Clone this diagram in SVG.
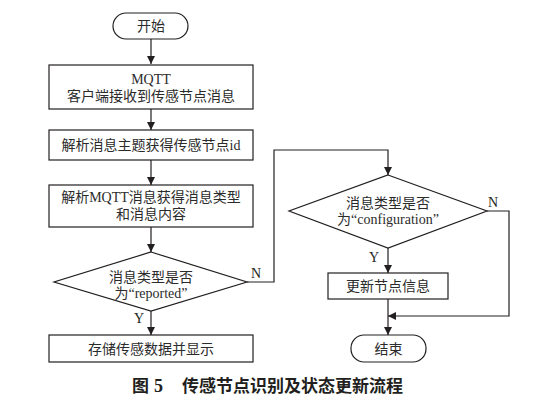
<svg xmlns="http://www.w3.org/2000/svg" width="544" height="401" viewBox="0 0 544 401">
<defs>
<marker id="ah" viewBox="0 0 10 10" refX="10" refY="5" markerWidth="8" markerHeight="8" markerUnits="userSpaceOnUse" orient="auto">
<path d="M0,0 L10,5 L0,10 z" fill="#231f20"/>
</marker>
<style>
.n{fill:#fff;stroke:#231f20;stroke-width:1.2}
.t{font-family:"Liberation Serif","Noto Sans CJK SC",serif;font-size:14px;fill:#2b2b2b;text-anchor:middle}
.l{font-family:"Liberation Serif",serif;font-size:14px;fill:#231f20;text-anchor:middle}
.c{fill:none;stroke:#231f20;stroke-width:1.2}
.cap{font-family:"Noto Sans CJK SC",sans-serif;font-size:17px;font-weight:bold;fill:#231f20}
</style>
</defs>
<rect width="544" height="401" fill="#fff"/>
<g id="connectors">
<path class="c" d="M151,39 V64" marker-end="url(#ah)"/>
<path class="c" d="M151,109 V130" marker-end="url(#ah)"/>
<path class="c" d="M151,160 V185" marker-end="url(#ah)"/>
<path class="c" d="M151,227 V252" marker-end="url(#ah)"/>
<path class="c" d="M151,311 V335" marker-end="url(#ah)"/>
<path class="c" d="M247,282 H274 V150 H388 V175" marker-end="url(#ah)"/>
<path class="c" d="M388,248 V273" marker-end="url(#ah)"/>
<path class="c" d="M388,299 V335" marker-end="url(#ah)"/>
<path class="c" d="M487,211 H509 V316 H388" marker-end="url(#ah)"/>
<text class="l" x="256" y="278">N</text>
<text class="l" x="139" y="323">Y</text>
<text class="l" x="493" y="207">N</text>
<text class="l" x="374" y="262">Y</text>
</g>
<g id="start">
<rect class="n" x="113" y="13" width="75" height="26" rx="13"/>
<text class="t" x="151" y="31">开始</text>
</g>
<g id="receive">
<rect class="n" x="49" y="65" width="204" height="44"/>
<text class="t" x="151" y="84">MQTT</text>
<text class="t" x="151" y="101">客户端接收到传感节点消息</text>
</g>
<g id="parseTopic">
<rect class="n" x="49" y="130" width="204" height="30"/>
<text class="t" x="151" y="150">解析消息主题获得传感节点id</text>
</g>
<g id="parseMsg">
<rect class="n" x="49" y="185" width="204" height="42"/>
<text class="t" x="151" y="202">解析MQTT消息获得消息类型</text>
<text class="t" x="151" y="219">和消息内容</text>
</g>
<g id="isReported">
<polygon class="n" points="151,252 247,282 151,311 54,282"/>
<text class="t" x="151" y="282">消息类型是否</text>
<text class="t" x="151" y="298">为“reported”</text>
</g>
<g id="store">
<rect class="n" x="49" y="335" width="204" height="27"/>
<text class="t" x="151" y="354">存储传感数据并显示</text>
</g>
<g id="isConfig">
<polygon class="n" points="388,175 487,211 388,248 289,211"/>
<text class="t" x="388" y="208">消息类型是否</text>
<text class="t" x="388" y="224">为“configuration”</text>
</g>
<g id="update">
<rect class="n" x="328" y="273" width="120" height="26"/>
<text class="t" x="388" y="291">更新节点信息</text>
</g>
<g id="end">
<rect class="n" x="351" y="335" width="75" height="27" rx="13"/>
<text class="t" x="388.5" y="354">结束</text>
</g>
<text class="cap" x="132" y="392">图<tspan x="154" font-family="Liberation Serif" font-size="18">5</tspan><tspan x="182">传感节点识别及状态更新流程</tspan></text>
</svg>
